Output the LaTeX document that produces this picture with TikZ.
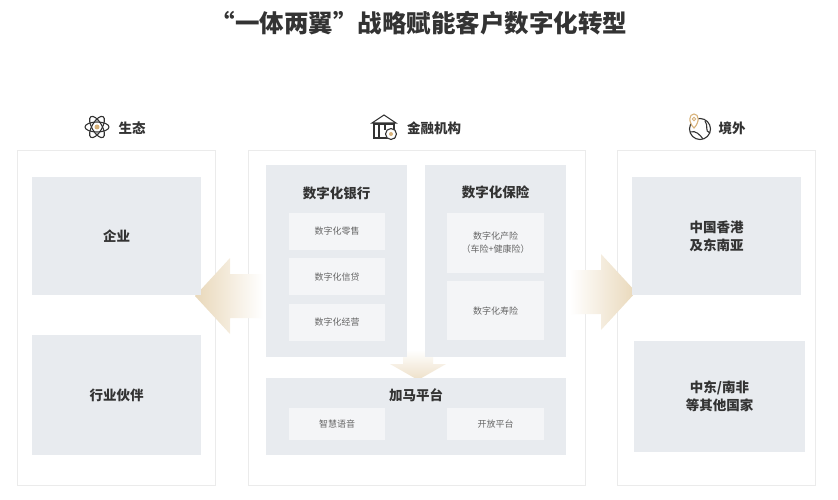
\documentclass[tikz,border=0pt]{standalone}
\usepackage{fontspec}
\setmainfont{Noto Sans CJK SC}
\usetikzlibrary{positioning}
\definecolor{panelline}{HTML}{EBEBEB}
\definecolor{boxgray}{HTML}{E8EBEF}
\definecolor{subgray}{HTML}{F4F5F7}
\definecolor{beige}{HTML}{E9D8BA}
\definecolor{ink}{HTML}{333333}
\definecolor{gold}{HTML}{D8B27A}
\tikzset{
  panel/.style={draw=panelline, fill=white, line width=0.8pt},
  bigbox/.style={fill=boxgray, font=\bfseries\fontsize{13.5}{18}\selectfont, text=ink, align=center},
  subbox/.style={fill=subgray, font=\fontsize{9}{13}\selectfont, text=black!60, align=center},
  head/.style={font=\bfseries\fontsize{13.5}{16}\selectfont, text=ink},
  icon/.style={draw=ink, line width=1.1pt}
}
\begin{document}
\begin{tikzpicture}[x=1pt, y=-1pt]
  \useasboundingbox (0,0) rectangle (838,500);
  % title
  \node[font=\bfseries\fontsize{24.5}{28}\selectfont, text=ink] (title) at (419,23) {“一体两翼”战略赋能客户数字化转型};
  % panels
  \draw[panel] (17,150) rectangle (215,485);
  \draw[panel] (248,150) rectangle (585,485);
  \draw[panel] (617,150) rectangle (815,485);
  % headers
  \node[head] (eco) at (132,128) {生态};
  \node[head] (fin) at (434,128) {金融机构};
  \node[head] (abroad) at (732,128) {境外};
  % atom icon
  \begin{scope}[shift={(97,127)}]
    \foreach \a in {0,60,120} \draw[icon, rotate=\a] (0,0) ellipse (12 and 5);
    \fill[gold] (0,0) circle (2.5);
  \end{scope}
  % bank icon
  \begin{scope}[shift={(384,127)}]
    \draw[icon] (-12,-4) -- (0,-12) -- (12,-4) -- cycle;
    \draw[icon] (-10,-3) rectangle (10,11);
    \draw[icon] (-5,-3) -- (-5,11) (1,-3) -- (1,3);
    \draw[icon, fill=white] (7,7) circle (5.5);
    \fill[gold] (7,7) circle (2);
  \end{scope}
  % globe icon
  \begin{scope}[shift={(700,129)}]
    \draw[icon] (0,0) circle (10.5);
    \draw[icon] (-10,3) .. controls (-4,1) and (0,6) .. (3,10);
    \draw[icon] (5,-8) .. controls (9,-3) and (4,2) .. (10,4);
    \draw[gold, line width=1.1pt, fill=white] (-6,-1) .. controls (-12,-7) and (-11,-15) .. (-6,-15) .. controls (-1,-15) and (0,-7) .. cycle;
    \draw[gold, line width=0.9pt] (-6,-10) circle (1.8);
  \end{scope}
  % arrows
  \shade[left color=beige, right color=white] (195,296) -- (230,258) -- (230,274) -- (263,274) -- (263,318) -- (230,318) -- (230,334) -- cycle;
  \shade[right color=beige, left color=white] (636,292) -- (601,254) -- (601,270) -- (570,270) -- (570,314) -- (601,314) -- (601,330) -- cycle;
  \shade[bottom color=beige!80, top color=white] (418,380) -- (390,364) -- (403,364) -- (403,350) -- (433,350) -- (433,364) -- (446,364) -- cycle;
  % left boxes
  \node[bigbox, minimum width=169pt, minimum height=118pt] (firm) at (116.5,236) {企业};
  \node[bigbox, minimum width=169pt, minimum height=120pt] (partner) at (116.5,395) {行业伙伴};
  % right boxes
  \node[bigbox, minimum width=169pt, minimum height=118pt] (hk) at (716.5,236) {中国香港\\及东南亚};
  \node[bigbox, minimum width=171pt, minimum height=111pt] (me) at (719.5,396.5) {中东/南非\\等其他国家};
  % center columns
  \fill[boxgray] (266,165) rectangle (407,357);
  \fill[boxgray] (425,165) rectangle (566,357);
  \fill[boxgray] (266,378) rectangle (566,455);
  \node[bigbox, fill=none] (bank) at (336.5,193) {数字化银行};
  \node[bigbox, fill=none] (ins) at (495.5,192) {数字化保险};
  \node[bigbox, fill=none] (gama) at (416,395) {加马平台};
  \node[subbox, minimum width=96pt, minimum height=37pt] (retail) at (337,231.5) {数字化零售};
  \node[subbox, minimum width=96pt, minimum height=37pt, below=8pt of retail] (credit) {数字化信贷};
  \node[subbox, minimum width=96pt, minimum height=37pt, below=8pt of credit] (oper) {数字化经营};
  \node[subbox, minimum width=97pt, minimum height=60pt] (prop) at (495.5,243) {数字化产险\\（车险+健康险）};
  \node[subbox, minimum width=97pt, minimum height=59pt, below=8pt of prop] (life) {数字化寿险};
  \node[subbox, minimum width=96pt, minimum height=32pt] (voice) at (337,424) {智慧语音};
  \node[subbox, minimum width=97pt, minimum height=32pt] (open) at (495.5,424) {开放平台};
\end{tikzpicture}
\end{document}
